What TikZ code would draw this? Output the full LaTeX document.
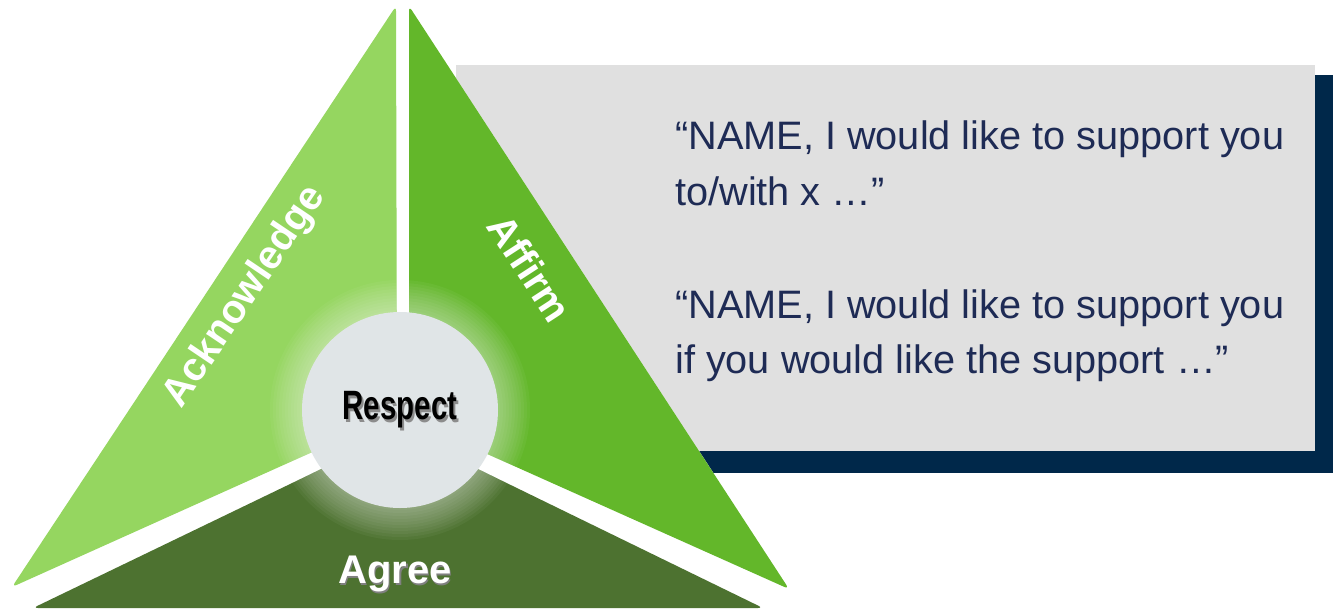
\documentclass[tikz,border=0pt]{standalone}
\usepackage{fontspec}
\usepackage{graphicx}
\setmainfont{Liberation Sans}
\definecolor{ackgreen}{HTML}{95D660}
\definecolor{affgreen}{HTML}{63B72A}
\definecolor{agrgreen}{HTML}{4D7230}
\definecolor{boxgray}{HTML}{E0E0E0}
\definecolor{shadownavy}{HTML}{00284A}
\definecolor{quotenavy}{HTML}{1E2B55}
\definecolor{respgray}{HTML}{E0E5E7}

\begin{document}
\begin{tikzpicture}[x=1pt,y=-1pt,
    piece/.style={rounded corners=5pt},
    lbl/.style={text=white,inner sep=0pt,font=\fontsize{40}{40}\selectfont\bfseries},
    resplbl/.style={inner sep=0pt,font=\fontsize{41}{41}\selectfont\bfseries},
    quote/.style={anchor=base west,inner sep=0pt,text=quotenavy,font=\fontsize{39.7}{46}\selectfont}]

    \useasboundingbox (0,0) rectangle (1333,611);

    % quote box with its shadow
    \fill[shadownavy] (470,75) rectangle (1333,473);
    \fill[boxgray] (456,65) rectangle (1315,451);

    \coordinate(top1) at (396,6);
    \coordinate(top2) at (409,6);
    \coordinate(left1) at (12,587);
    \coordinate(left2) at (33,608);
    \coordinate(right1) at (789,589);
    \coordinate(right2) at (763,608);
    \coordinate(C) at (400,410);

    % white ground under the triangle, shows in the gaps
    \fill[white] (top1) -- (top2) -- (right1) -- (right2) -- (765,611) -- (31,611) -- (left2) -- (left1) -- cycle;

    % the three parts of the triangle
    \fill[ackgreen, piece] (top1) -- (397,414) -- (left1) -- cycle;
    \fill[affgreen, piece] (top2) -- (right1) -- (409,419) -- cycle;
    \fill[agrgreen, piece] (400,431) -- (right2) -- (left2) -- cycle;

    % glow round the centre, kept on the parts
    \begin{scope}
        \clip[piece] (top1) -- (397,414) -- (left1) -- cycle
            (top2) -- (right1) -- (409,419) -- cycle
            (400,431) -- (right2) -- (left2) -- cycle;
        \foreach \r in {100,103,...,130}
            \fill[white, opacity=0.045] (C) circle (\r);
    \end{scope}
    \node[circle, fill=respgray, minimum size=196pt, inner sep=0pt] (resp) at (C) {};
    \node[resplbl, text=black!45] at (402,413) {\scalebox{0.72}[1]{Respect}};
    \node[resplbl] (resptxt) at (C) {\scalebox{0.72}[1]{Respect}};

    \node[lbl, rotate=56] (ack) at (245,297) {Acknowledge};
    \node[lbl, rotate=-57] (aff) at (530,268) {Affirm};
    \node[lbl, text=black!50] at (396.5,575.5) {Agree};
    \node[lbl] (agr) at (395,574) {Agree};

    \node[quote] (q1a) at (675,149) {“NAME, I would like to support you};
    \node[quote] (q1b) at (675,205) {to/with x …”};
    \node[quote] (q2a) at (675,318) {“NAME, I would like to support you};
    \node[quote] (q2b) at (675,373) {if you would like the support …”};

\end{tikzpicture}
\end{document}
